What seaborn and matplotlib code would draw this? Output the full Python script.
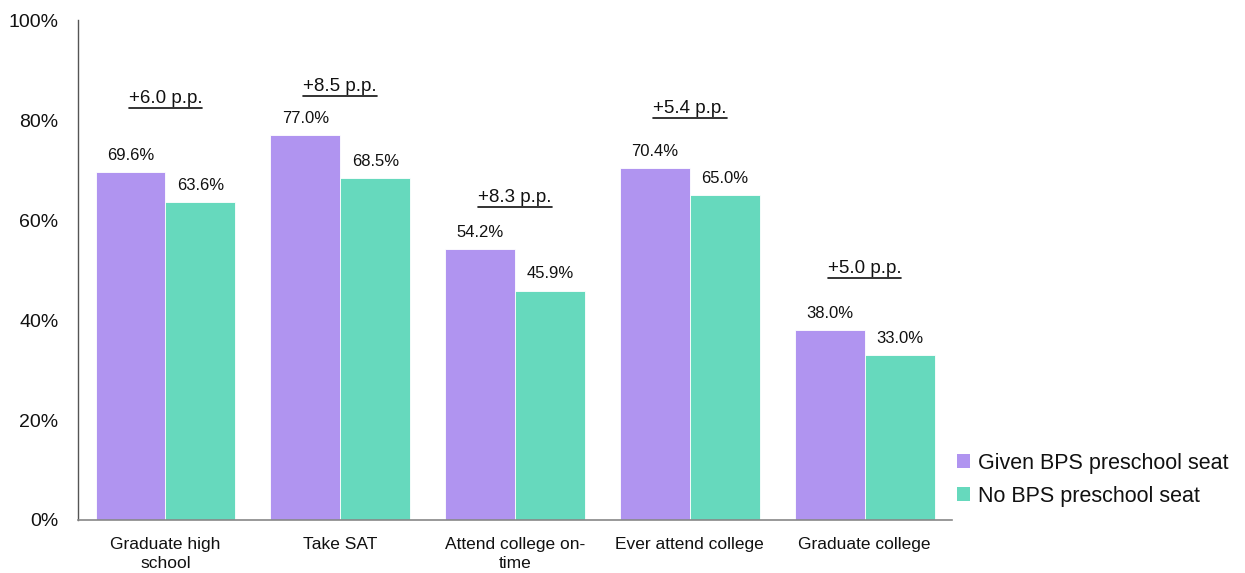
import matplotlib
matplotlib.use("Agg")
import matplotlib.pyplot as plt
import seaborn as sns
import pandas as pd
from matplotlib.lines import Line2D
from matplotlib.patches import Patch

categories = ["Graduate high\nschool", "Take SAT", "Attend college on-\ntime",
              "Ever attend college", "Graduate college"]
given = [69.6, 77.0, 54.2, 70.4, 38.0]
no_seat = [63.6, 68.5, 45.9, 65.0, 33.0]
diff_labels = ["+6.0 p.p.", "+8.5 p.p.", "+8.3 p.p.", "+5.4 p.p.", "+5.0 p.p."]
series = ["Given BPS preschool seat", "No BPS preschool seat"]
yticks = [0, 20, 40, 60, 80, 100]

# layout: vertical centre of the difference annotations (data units)
diff_y = [84.3, 86.8, 64.6, 82.4, 50.4]

colors = ["#B094F0", "#66D9BD"]

sns.set_theme(style="white")
plt.rcParams["font.family"] = ["Liberation Sans", "DejaVu Sans"]
plt.rcParams["text.color"] = "#111111"
plt.rcParams["xtick.color"] = "#111111"
plt.rcParams["ytick.color"] = "#111111"

df = pd.DataFrame({
    "cat": categories * 2,
    "val": given + no_seat,
    "series": [series[0]] * 5 + [series[1]] * 5,
})

fig = plt.figure(figsize=(12.45, 5.73), dpi=100)
ax = fig.add_axes([0.0627, 0.0925, 0.702, 0.8725])
sns.barplot(data=df, x="cat", y="val", hue="series", palette=colors,
            order=categories, hue_order=series, width=0.8, ax=ax,
            saturation=1, edgecolor="white", linewidth=0.6, legend=False)

for cont in ax.containers:
    ax.bar_label(cont, labels=[f"{b.get_height():.1f}%" for b in cont],
                 padding=6.5, fontsize=12, color="#111111")

ax.set_ylim(0, 100)
ax.set_xlim(-0.5, 4.5)
ax.set_yticks(yticks)
ax.set_yticklabels([f"{t}%" for t in yticks], fontsize=14)
ax.tick_params(axis="y", length=0, pad=14)
ax.tick_params(axis="x", length=0, pad=12, labelsize=12.5)
for lab in ax.get_xticklabels():
    lab.set_linespacing(1.35)
ax.set_xlabel("")
ax.set_ylabel("")
for s in ["top", "right"]:
    ax.spines[s].set_visible(False)
ax.spines["left"].set_color("#555555")
ax.spines["bottom"].set_color("#888888")
ax.spines["left"].set_linewidth(1.0)
ax.spines["bottom"].set_linewidth(1.2)

texts = []
for i, (lab, y) in enumerate(zip(diff_labels, diff_y)):
    t = ax.text(i, y, lab, ha="center", va="center", fontsize=13.5, color="#111111")
    texts.append(t)

fig.canvas.draw()
r = fig.canvas.get_renderer()
inv = fig.transFigure.inverted()
for t in texts:
    bb = t.get_window_extent(r)
    (x0, y0) = inv.transform((bb.x0, bb.y0 - 1))
    (x1, _) = inv.transform((bb.x1, bb.y0 - 1))
    fig.add_artist(Line2D([x0, x1], [y0, y0], transform=fig.transFigure,
                          color="#111111", lw=1.2))

handles = [Patch(facecolor=c, edgecolor="none") for c in colors]
fig.legend(handles, series, loc="upper left", bbox_to_anchor=(0.762, 0.225),
           frameon=False, fontsize=15.5, handlelength=0.6, handleheight=0.6,
           handletextpad=0.35, labelspacing=0.55, borderaxespad=0)

fig.savefig("out.png", dpi=100)
